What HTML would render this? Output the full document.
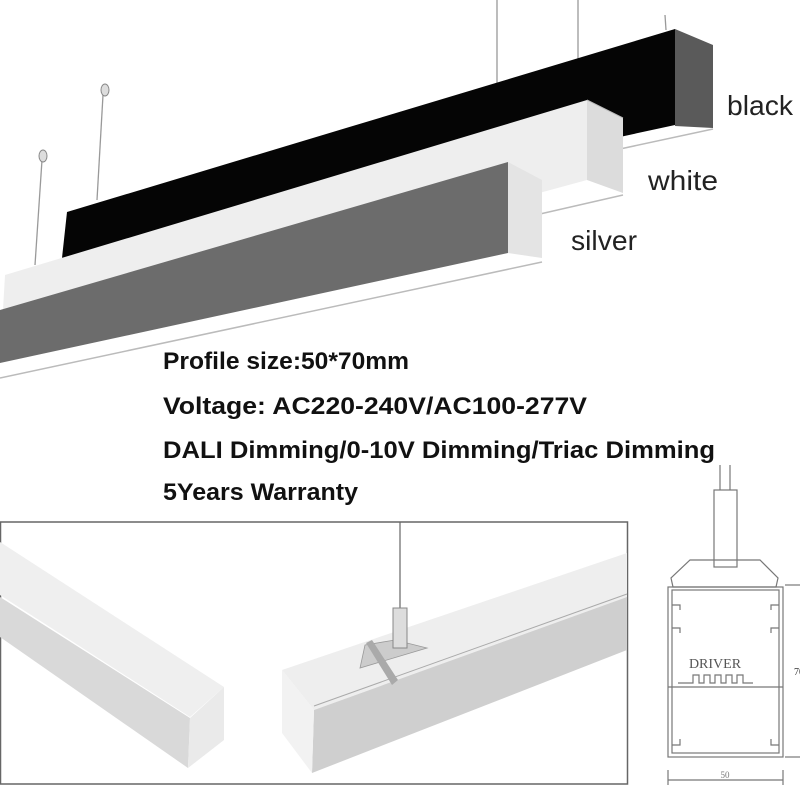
<!DOCTYPE html>
<html><head><meta charset="utf-8"><style>
html,body{margin:0;padding:0;background:#fff;width:800px;height:800px;overflow:hidden}
svg{display:block}
</style></head><body>
<svg width="800" height="800" viewBox="0 0 800 800" xmlns="http://www.w3.org/2000/svg">
<rect width="800" height="800" fill="#fff"/>
<!-- wires -->
<g stroke="#999" stroke-width="1.3" fill="none">
<line x1="103" y1="95" x2="97" y2="200"/>
<line x1="42" y1="160" x2="35" y2="265"/>
<line x1="497" y1="0" x2="497" y2="160"/>
<line x1="578" y1="0" x2="578" y2="100"/>
<line x1="665" y1="15" x2="666" y2="30"/>
</g>
<g fill="#ddd" stroke="#888" stroke-width="1">
<ellipse cx="105" cy="90" rx="4" ry="6"/>
<ellipse cx="43" cy="156" rx="4" ry="6"/>
</g>
<!-- black bar -->
<polygon points="67,212 675,29 675,125 62,258" fill="#050505"/>
<polygon points="675,29 713,45 713,128 675,126" fill="#5a5a5a"/>
<line x1="713" y1="129" x2="620" y2="149" stroke="#bbb" stroke-width="1.5"/>
<!-- white bar -->
<polygon points="5,275 587,100 587,180 0,340 3,310" fill="#eeeeee"/>
<polygon points="587,100 623,118 623,193 587,180" fill="#dcdcdc"/>
<line x1="587" y1="100" x2="623" y2="118" stroke="#bbb"/>
<line x1="623" y1="195" x2="540" y2="214" stroke="#bbb" stroke-width="1.5"/>
<!-- silver bar -->
<polygon points="0,310 508,162 508,253 0,363" fill="#6c6c6c"/>
<polygon points="508,162 542,180 542,258 508,253" fill="#e4e4e4"/>
<line x1="542" y1="262" x2="0" y2="378" stroke="#bbb" stroke-width="1.5"/>
<!-- labels -->
<g font-family="Liberation Sans, sans-serif" fill="#222" font-size="28">
<text x="727" y="115" textLength="66" lengthAdjust="spacingAndGlyphs">black</text>
<text x="648" y="190" textLength="70" lengthAdjust="spacingAndGlyphs">white</text>
<text x="571" y="250" textLength="66" lengthAdjust="spacingAndGlyphs">silver</text>
</g>
<g font-family="Liberation Sans, sans-serif" font-weight="bold" fill="#111" font-size="24">
<text x="163" y="369" textLength="246" lengthAdjust="spacingAndGlyphs">Profile size:50*70mm</text>
<text x="163" y="414" textLength="424" lengthAdjust="spacingAndGlyphs">Voltage: AC220-240V/AC100-277V</text>
<text x="163" y="458" textLength="552" lengthAdjust="spacingAndGlyphs">DALI Dimming/0-10V Dimming/Triac Dimming</text>
<text x="163" y="500" textLength="195" lengthAdjust="spacingAndGlyphs">5Years Warranty</text>
</g>
<!-- bottom box -->
<rect x="0.5" y="522" width="627" height="262" fill="#fff" stroke="#666" stroke-width="1.5"/>
<!-- left bar -->
<polygon points="0,542 224,687 190,717 0,595" fill="#efefef"/>
<polygon points="0,597 190,718 188,768 0,637" fill="#d9d9d9"/>
<polygon points="190,718 224,687 224,740 188,768" fill="#eaeaea"/>
<!-- right bar -->
<polygon points="282,670 627,553 627,597 314,710" fill="#eeeeee"/>
<polygon points="314,710 627,597 627,650 312,773" fill="#cfcfcf"/>
<polygon points="282,670 314,710 312,773 282,733" fill="#f2f2f2"/>
<line x1="314" y1="706" x2="627" y2="594" stroke="#aaa"/>
<line x1="400" y1="522" x2="400" y2="608" stroke="#666" stroke-width="1.2"/>
<polygon points="365,645 395,640 427,648 360,668" fill="#ccc" stroke="#999" stroke-width="0.8"/>
<polygon points="366,643 372,640 398,680 392,685" fill="#aaa"/>
<rect x="393" y="608" width="14" height="40" fill="#ddd" stroke="#888" stroke-width="1"/>
<!-- cross section -->
<g stroke="#777" stroke-width="1.2" fill="none">
<line x1="720" y1="465" x2="720" y2="490"/>
<line x1="730" y1="465" x2="730" y2="490"/>
<rect x="714" y="490" width="23" height="77"/>
<polygon points="690,560 760,560 778,578 776,587 673,587 671,578"/>
<rect x="668" y="587" width="115" height="170"/>
<rect x="672" y="590" width="107" height="163"/>
<line x1="668" y1="687" x2="783" y2="687"/>
<path d="M678,683 h15 v-8 h6 v8 h5 v-8 h6 v8 h5 v-8 h6 v8 h5 v-8 h6 v8 h5 v-8 h6 v8 h10"/>
<path d="M672,605 h8 v5 M779,605 h-8 v5 M672,628 h8 v5 M779,628 h-8 v5 M672,745 h8 v-6 M779,745 h-8 v-6"/>
<line x1="668" y1="770" x2="668" y2="785"/>
<line x1="783" y1="770" x2="783" y2="785"/>
<line x1="668" y1="780" x2="783" y2="780"/>
<line x1="785" y1="585" x2="800" y2="585"/>
<line x1="785" y1="757" x2="800" y2="757"/>
</g>
<text x="715" y="668" font-family="Liberation Serif, serif" font-size="14" fill="#555" text-anchor="middle">DRIVER</text>
<text x="725" y="778" font-family="Liberation Serif, serif" font-size="9" fill="#777" text-anchor="middle">50</text>
<text x="794" y="675" font-family="Liberation Serif, serif" font-size="10" fill="#333">70</text>
</svg>
</body></html>
